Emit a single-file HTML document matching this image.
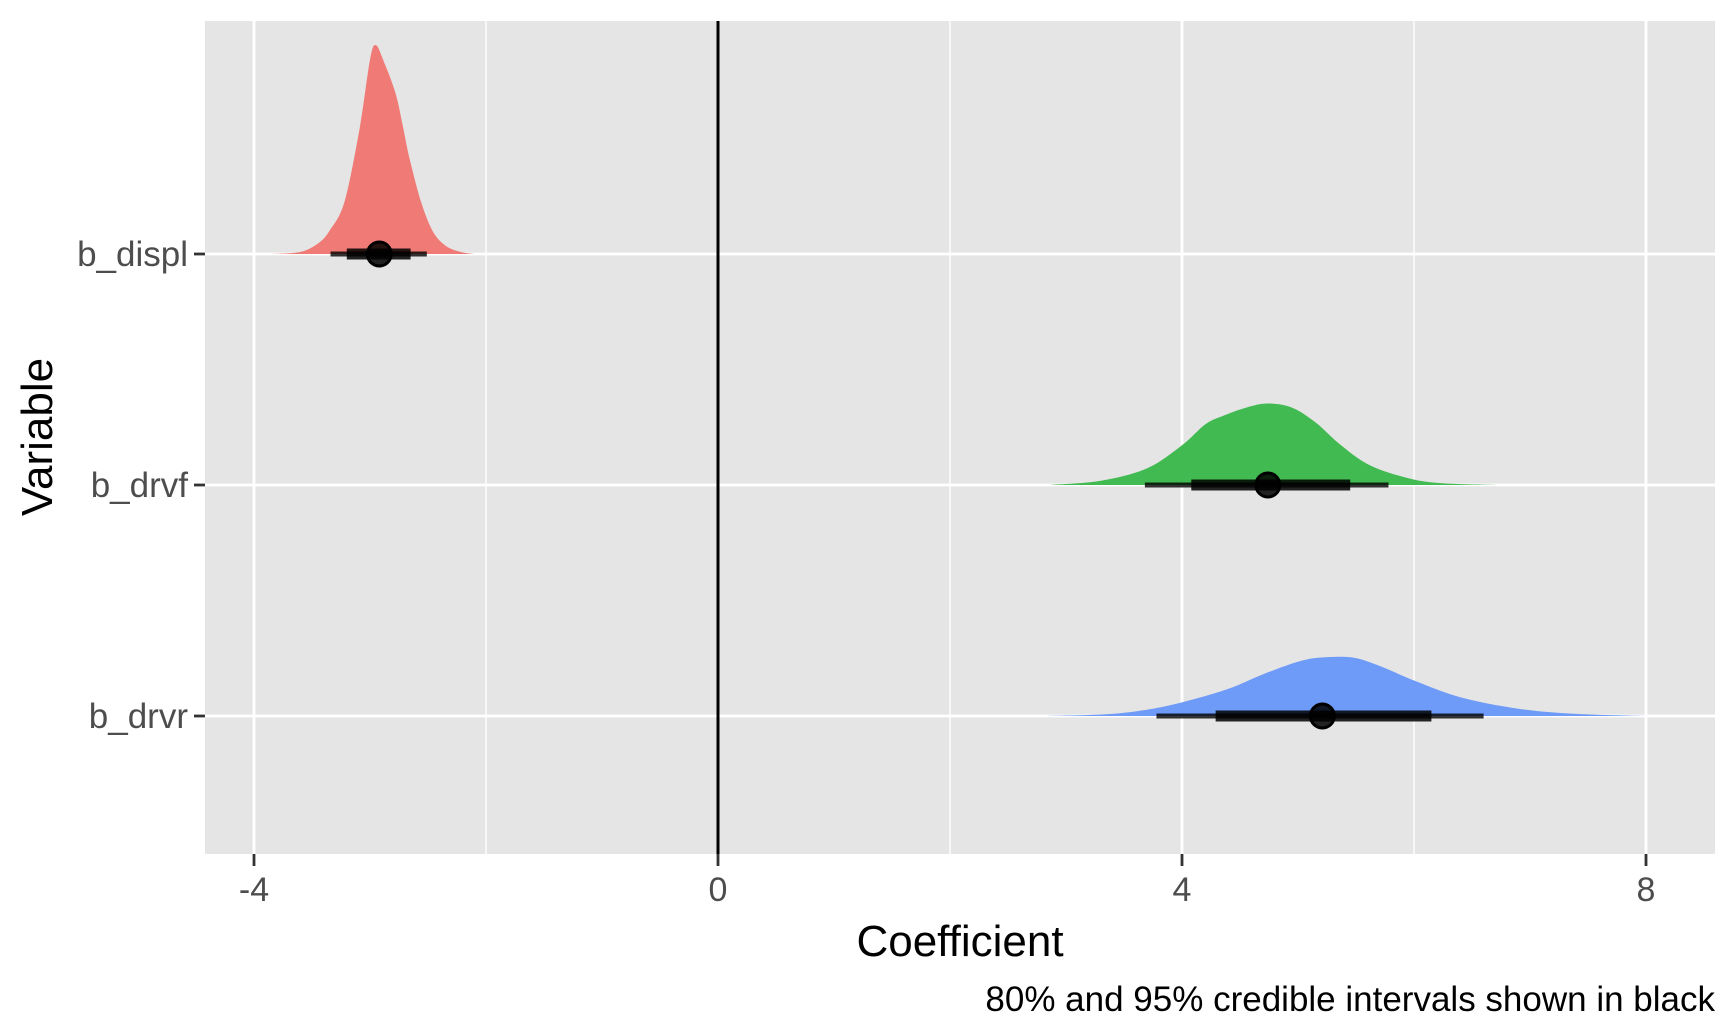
<!DOCTYPE html>
<html><head><meta charset="utf-8"><style>
html,body{margin:0;padding:0;background:#fff;}
svg{display:block;font-family:"Liberation Sans",Arial,sans-serif;}
</style></head><body>
<svg id="chart" width="1728" height="1036" viewBox="0 0 1728 1036" xmlns="http://www.w3.org/2000/svg">
<rect x="205" y="21" width="1510" height="833" fill="#e5e5e5"/>
<g id="grid"></g><g id="marks"></g><g id="axes"></g>
<text x="960" y="956" font-size="44" text-anchor="middle" fill="#000">Coefficient</text>
<text transform="translate(52,437) rotate(-90)" font-size="44" text-anchor="middle" fill="#000">Variable</text>
<text x="1715" y="1011" font-size="35" text-anchor="end" fill="#000">80% and 95% credible intervals shown in black</text>
</svg>
<script>
const variables = ["b_displ","b_drvf","b_drvr"];
const colors = ["#f07b76","#42ba52","#6e9af8"];
const xTicks = [-4,0,4,8];
const xMinor = [-2,2,6];
const displX = [-3.84,-3.6,-3.45,-3.35,-3.22,-3.09,-3.0,-2.95,-2.88,-2.78,-2.72,-2.66,-2.56,-2.46,-2.35,-2.22,-2.1];
const displD = [0,0.01,0.05,0.11,0.25,0.6,0.93,1.0,0.92,0.77,0.62,0.46,0.25,0.11,0.04,0.01,0];
const drvfX = [2.86,3.3,3.7,4.0,4.2,4.35,4.55,4.74,4.95,5.15,5.35,5.6,5.9,6.2,6.71];
const drvfD = [0,0.02,0.08,0.19,0.29,0.33,0.37,0.39,0.37,0.3,0.2,0.1,0.04,0.01,0];
const drvrX = [2.83,3.4,3.8,4.1,4.4,4.7,5.0,5.2,5.47,5.7,6.0,6.4,6.9,7.4,8.0];
const drvrD = [0,0.01,0.04,0.08,0.13,0.2,0.26,0.28,0.28,0.24,0.17,0.09,0.035,0.01,0];
const densX = [displX, drvfX, drvrX];
const densD = [displD, drvfD, drvrD];
const medians = [-2.92, 4.74, 5.21];
const lo95 = [-3.34, 3.68, 3.78];
const hi95 = [-2.51, 5.78, 6.6];
const lo80 = [-3.2, 4.08, 4.29];
const hi80 = [-2.65, 5.45, 6.15];

const NS="http://www.w3.org/2000/svg";
const PL=205, PR=1715, PT=21, PB=854;
const x = v => 718 + v*116;
const y = i => 254 + i*231;
const hScale = 209;
function mk(tag, attrs, parent){const e=document.createElementNS(NS,tag);for(const k in attrs)e.setAttribute(k,attrs[k]);parent.appendChild(e);return e;}
function smooth(pts){
 let d='M'+pts[0][0].toFixed(1)+','+pts[0][1].toFixed(1);
 for(let i=0;i<pts.length-1;i++){
  const p0=pts[Math.max(0,i-1)],p1=pts[i],p2=pts[i+1],p3=pts[Math.min(pts.length-1,i+2)];
  let c1y=p1[1]+(p2[1]-p0[1])/6, c2y=p2[1]-(p3[1]-p1[1])/6;
  const base=pts[0][1];
  c1y=Math.min(c1y,base); c2y=Math.min(c2y,base);
  d+=' C'+(p1[0]+(p2[0]-p0[0])/6).toFixed(1)+','+c1y.toFixed(1)+' '+(p2[0]-(p3[0]-p1[0])/6).toFixed(1)+','+c2y.toFixed(1)+' '+p2[0].toFixed(1)+','+p2[1].toFixed(1);
 }
 return d;
}
const grid=document.getElementById('grid'), marks=document.getElementById('marks'), axes=document.getElementById('axes');
xMinor.forEach(v=>{const l=mk('line',{x1:x(v),x2:x(v),y1:PT,y2:PB,stroke:'#fff','stroke-width':1.4},grid);

});
xTicks.forEach(v=>{const l=mk('line',{x1:x(v),x2:x(v),y1:PT,y2:PB,stroke:'#fff','stroke-width':2.8},grid);


const t=mk('line',{x1:x(v),x2:x(v),y1:PB,y2:PB+12,stroke:'#333','stroke-width':2.8},axes);


const tx=mk('text',{x:x(v),y:901,'font-size':34,'text-anchor':'middle',fill:'#4d4d4d'},axes);tx.textContent=String(v);

});
variables.forEach((name,i)=>{
 const l=mk('line',{x1:PL,x2:PR,y1:y(i),y2:y(i),stroke:'#fff','stroke-width':2.8},grid);
 
 
 const t=mk('line',{x1:PL-11,x2:PL,y1:y(i),y2:y(i),stroke:'#333','stroke-width':2.8},axes);
 
 
 const tx=mk('text',{x:PL-17,y:y(i)+12,'font-size':35,'text-anchor':'end',fill:'#4d4d4d'},axes);tx.textContent=name;
 
 
 const pts=densX[i].map((v,j)=>[x(v), y(i)-densD[i][j]*hScale]);
 const d=smooth(pts)+' Z';
 const p=mk('path',{d:d,fill:colors[i]},marks);
 
 
});
const zl=mk('line',{x1:x(0),x2:x(0),y1:PT,y2:PB,stroke:'#000','stroke-width':3},marks);


variables.forEach((name,i)=>{
 const a=mk('line',{x1:x(lo95[i]),x2:x(hi95[i]),y1:y(i),y2:y(i),stroke:'#000','stroke-opacity':0.8,'stroke-width':5},marks);
 
 
 const b=mk('line',{x1:x(lo80[i]),x2:x(hi80[i]),y1:y(i),y2:y(i),stroke:'#000','stroke-opacity':0.85,'stroke-width':11},marks);
 
 
 const c=mk('circle',{cx:x(medians[i]),cy:y(i),r:12,fill:'#000','fill-opacity':0.85,stroke:'#000','stroke-width':3},marks);
 
 
});
</script>
</body></html>
